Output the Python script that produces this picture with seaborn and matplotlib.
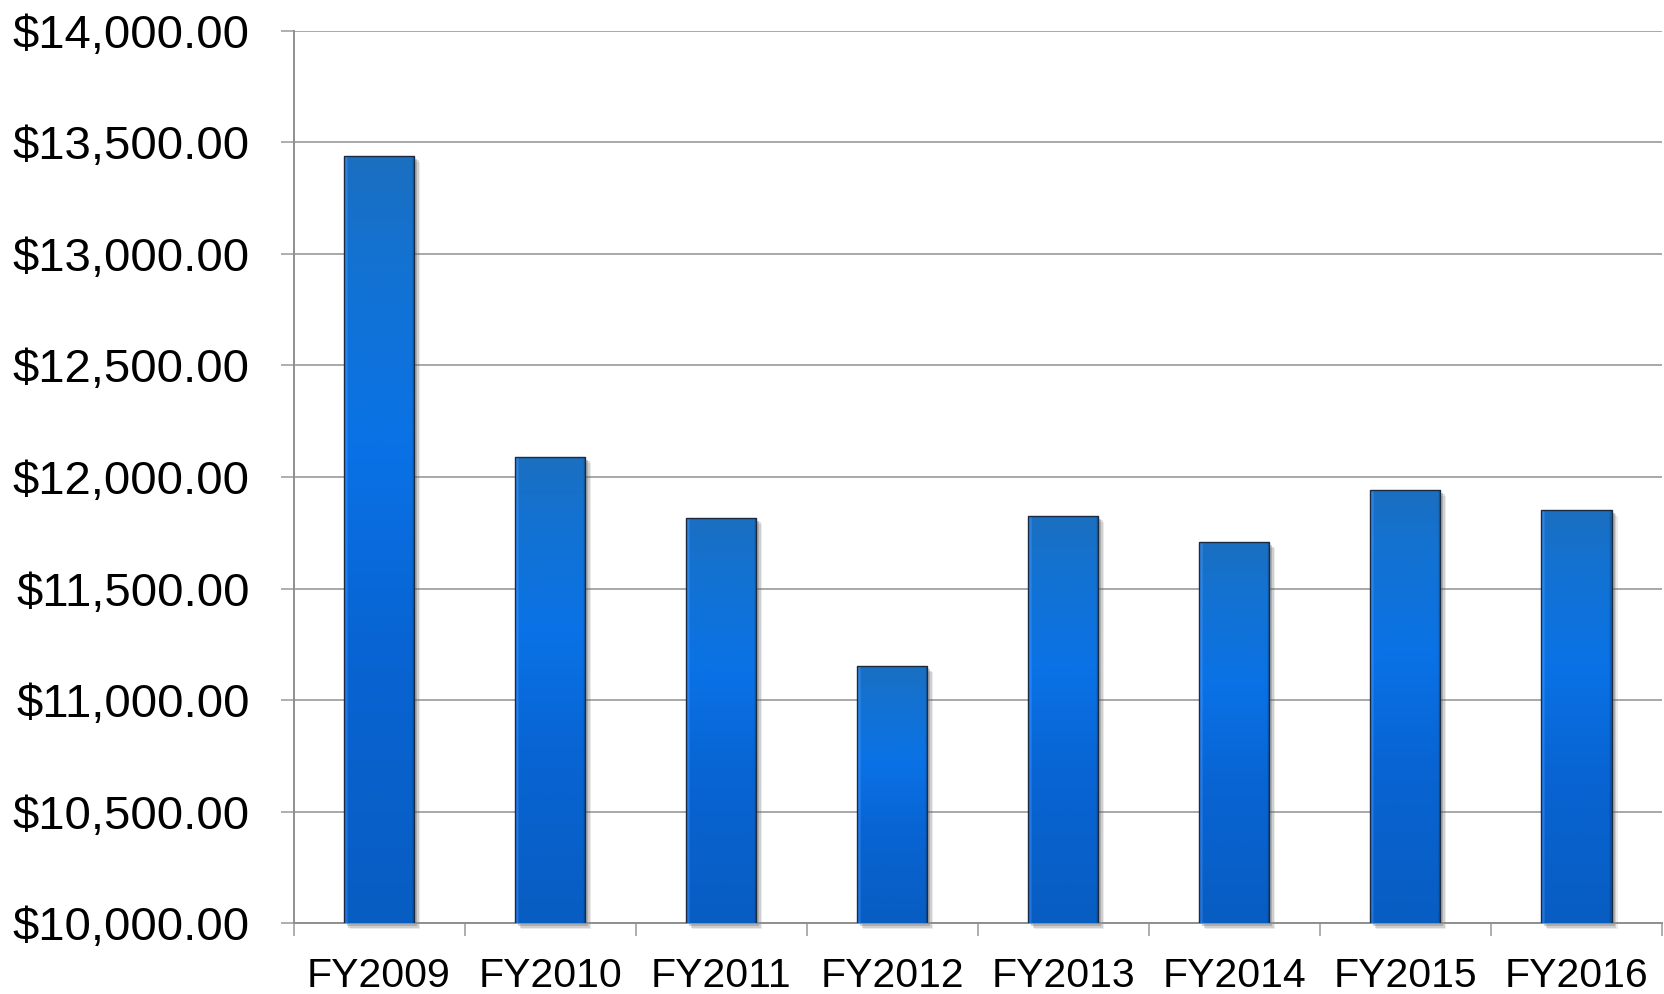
import numpy as np
import pandas as pd
import matplotlib
matplotlib.use("Agg")
import matplotlib.pyplot as plt
import matplotlib.transforms as mtransforms
from matplotlib.patches import Rectangle
from matplotlib.colors import to_rgb
from matplotlib.ticker import FuncFormatter
import seaborn as sns

# Annual amounts per fiscal year
years = ["FY2009", "FY2010", "FY2011", "FY2012", "FY2013", "FY2014", "FY2015", "FY2016"]
amounts = [13440, 12090, 11817, 11152, 11827, 11708, 11942, 11853]
y_ticks = [10000, 10500, 11000, 11500, 12000, 12500, 13000, 13500, 14000]

df = pd.DataFrame({"year": years, "amount": amounts})

sns.set_style("white")
plt.rcParams["font.family"] = ["Liberation Sans", "DejaVu Sans"]

W, H = 1664, 994
fig = plt.figure(figsize=(W / 100, H / 100), dpi=100)
ax = fig.add_axes([293.5 / W, (H - 923.3) / H, (1662 - 293.5) / W, (923.3 - 30.7) / H])

sns.barplot(data=df, x="year", y="amount", color="#0a66d0", width=0.41,
            ax=ax, zorder=3, saturation=1)

y_lo, y_hi = y_ticks[0], y_ticks[-1]
ax.set_ylim(y_lo, y_hi)
ax.set_xlim(-0.5, len(years) - 0.5)
ax.set_xlabel("")
ax.set_ylabel("")

# Y axis: dollar labels, outward gray ticks, horizontal gridlines
ax.set_yticks(y_ticks)
ax.yaxis.set_major_formatter(FuncFormatter(lambda v, p: f"${v:,.2f}"))
ax.tick_params(axis="y", which="major", length=9.4, width=1.1, color="#999999",
               pad=22, labelsize=34, labelcolor="black", left=True)
ax.yaxis.grid(True, color="#999999", linewidth=1.2, zorder=0)
ax.set_axisbelow(True)

# X axis: ticks at category boundaries, labels centred on the bars
ax.set_xticks(np.arange(-0.5, len(years), 1.0))
ax.set_xticklabels([])
ax.set_xticks(np.arange(len(years)), minor=True)
ax.set_xticklabels(years, minor=True)
ax.tick_params(axis="x", which="major", length=9.4, width=1.1, color="#999999", bottom=True)
ax.tick_params(axis="x", which="minor", length=0, pad=24.5, labelsize=29.5, labelcolor="black")

for side in ("top", "right"):
    ax.spines[side].set_visible(False)
for side in ("left", "bottom"):
    ax.spines[side].set_color("#8f8f8f")
    ax.spines[side].set_linewidth(1.4)

# Vertical gradient for the bar fill with a light left-edge highlight
stops = [(0.0, "#1b6fc0"), (0.12, "#1472d0"), (0.38, "#0a72e6"),
         (0.62, "#0865d4"), (1.0, "#085dc2")]
n_rows, n_cols = 256, 60
pos = np.linspace(0, 1, n_rows)
cols = np.array([to_rgb(c) for _, c in stops])
sp = np.array([s for s, _ in stops])
grad = np.stack([np.interp(pos, sp, cols[:, k]) for k in range(3)], axis=1)
img = np.repeat(grad[:, None, :], n_cols, axis=1)
img[:, 0:3, :] = np.clip(img[:, 0:3, :] * 0.75 + np.array([0.25, 0.55, 1.0]) * 0.25 + 0.05, 0, 1)
img[:, -2:, :] = img[:, -2:, :] * 0.85

for patch in list(ax.patches):
    x0, w = patch.get_x(), patch.get_width()
    top = patch.get_y() + patch.get_height()
    base = max(patch.get_y(), y_lo)
    # soft drop shadow to the lower right
    for off, alpha in ((6, 0.12), (4.5, 0.20), (3, 0.30)):
        tr = mtransforms.offset_copy(ax.transData, fig=fig, x=off * 0.72, y=-off * 0.72, units="points")
        ax.add_patch(Rectangle((x0, base), w, top - base, transform=tr, facecolor="#606060",
                               edgecolor="none", alpha=alpha, zorder=2, clip_on=False))
    im = ax.imshow(img, extent=(x0, x0 + w, base, top), aspect="auto",
                   origin="upper", zorder=3.5, interpolation="bilinear")
    im.set_clip_path(patch)
    patch.set_facecolor("none")
    patch.set_edgecolor("#1a2a40")
    patch.set_linewidth(1.0)
    patch.set_zorder(4)

ax.set_xlim(-0.5, len(years) - 0.5)
ax.set_ylim(y_lo, y_hi)

fig.savefig("out.png", dpi=100, facecolor="white")
